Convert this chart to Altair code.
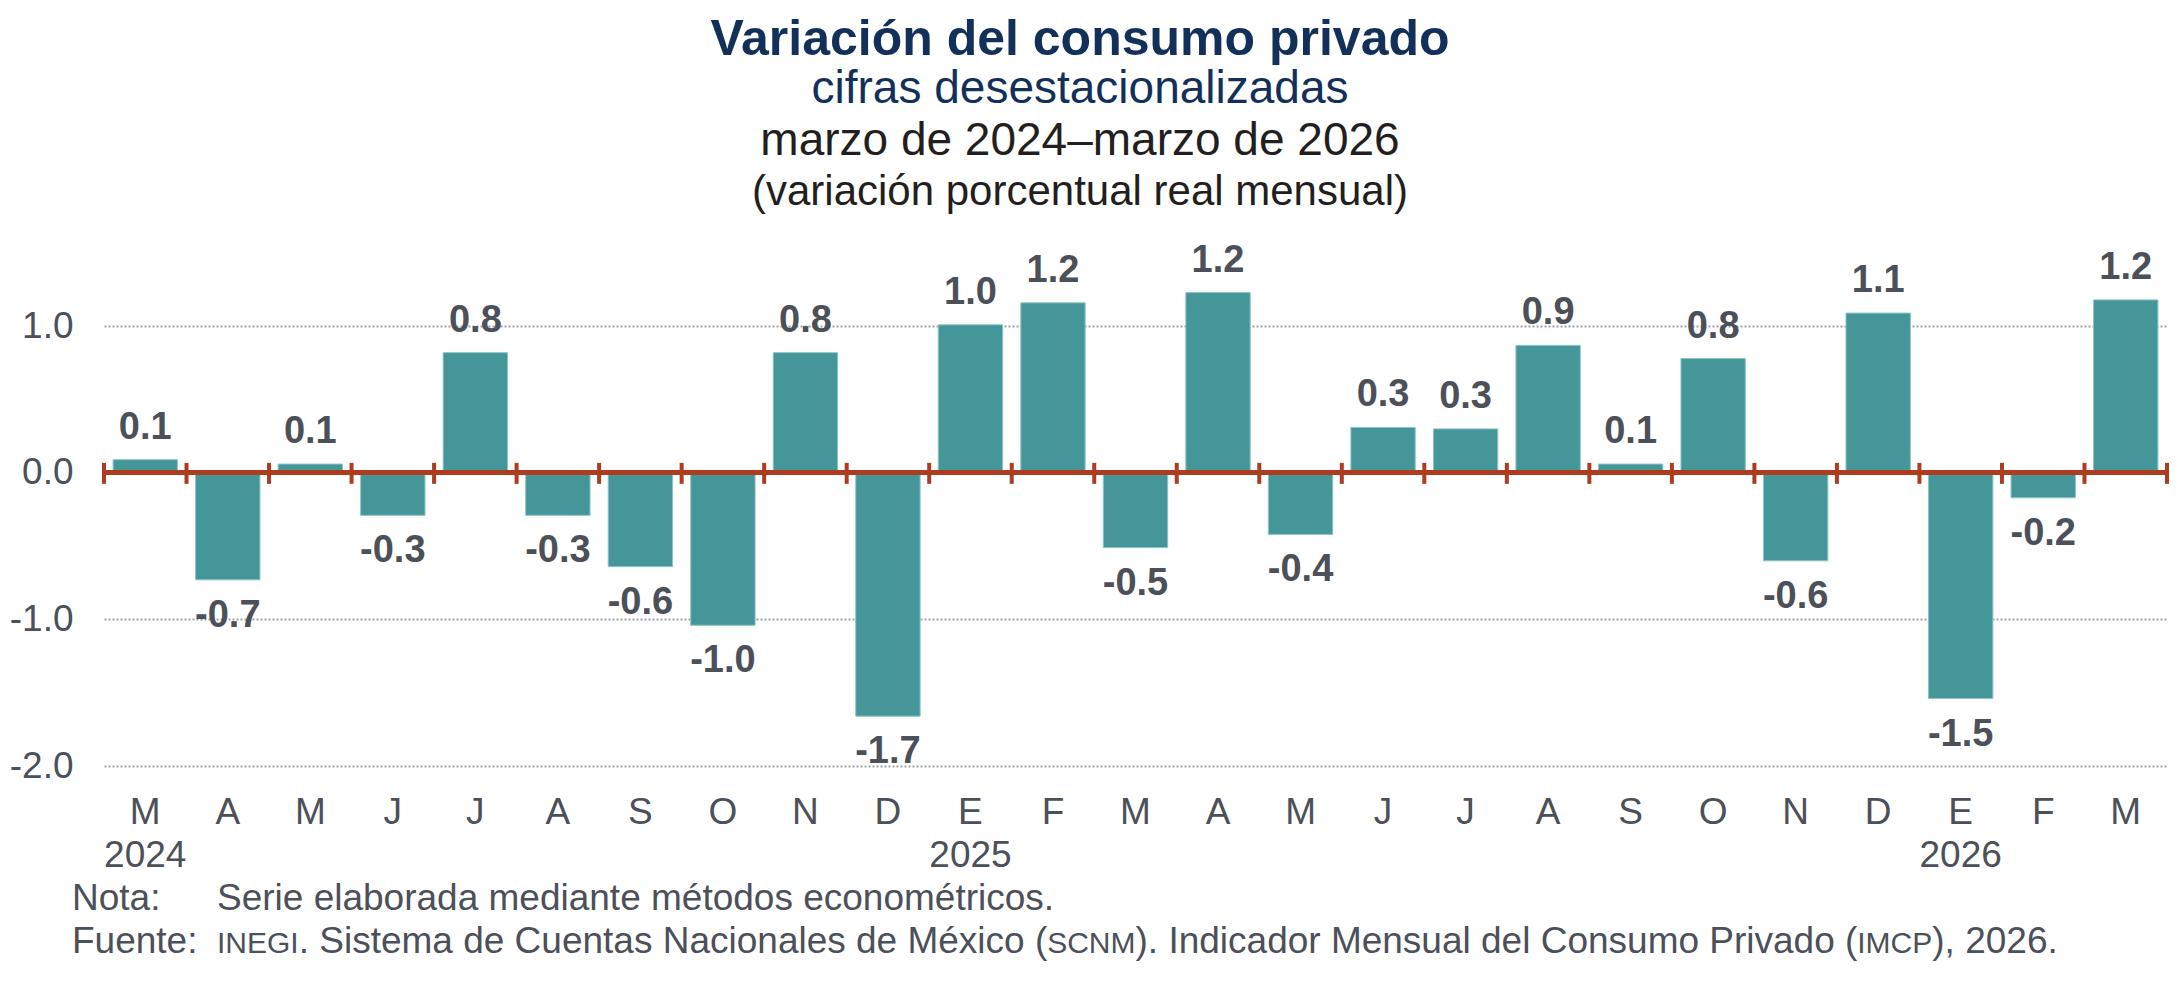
import json
import altair as alt
import pandas as pd

# ---------------- data ----------------
months = ["M", "A", "M", "J", "J", "A", "S", "O", "N", "D", "E", "F",
          "M", "A", "M", "J", "J", "A", "S", "O", "N", "D", "E", "F", "M"]
years = ["2024", "", "", "", "", "", "", "", "", "", "2025", "", "",
         "", "", "", "", "", "", "", "", "", "2026", "", ""]
values = [0.09, -0.73, 0.06, -0.29, 0.82, -0.29, -0.64, -1.04, 0.82, -1.66,
          1.01, 1.16, -0.51, 1.23, -0.42, 0.31, 0.30, 0.87, 0.06, 0.78,
          -0.60, 1.09, -1.54, -0.17, 1.18]
labels = ["0.1", "-0.7", "0.1", "-0.3", "0.8", "-0.3", "-0.6", "-1.0", "0.8", "-1.7",
          "1.0", "1.2", "-0.5", "1.2", "-0.4", "0.3", "0.3", "0.9", "0.1", "0.8",
          "-0.6", "1.1", "-1.5", "-0.2", "1.2"]
y_ticks = [-2, -1, 0, 1]

title_lines = ["Variación del consumo privado", "cifras desestacionalizadas",
               "marzo de 2024\u2013marzo de 2026", "(variación porcentual real mensual)"]
nota_label = "Nota:"
nota_text = "Serie elaborada mediante métodos econométricos."
fuente_label = "Fuente:"
fuente_parts = [("INEGI", True), (". Sistema de Cuentas Nacionales de México (", False),
                ("SCNM", True), ("). Indicador Mensual del Consumo Privado (", False),
                ("IMCP", True), ("), 2026.", False)]

# ---------------- styles ----------------
FONT = "Liberation Sans"
NAVY = "#13305A"
DARK = "#231F20"
GRAY = "#4B5059"
TEAL = "#459699"
RUST = "#AE3C1F"
GRID = "#9BA1A9"

W, H = 2063, 513
keys = [f"{i:02d}" for i in range(len(months))]
df = pd.DataFrame({"k": keys, "v": values, "lab": labels})

label_arr = [[m, y] if y else m for m, y in zip(months, years)]
label_expr = json.dumps(label_arr, ensure_ascii=False) + "[toNumber(datum.value)]"

xscale = alt.Scale(paddingInner=0, paddingOuter=0)
yscale = alt.Scale(domain=[-2, 1.5], nice=False, zero=False)

base = alt.Chart(df)

bars = base.mark_bar(color=TEAL, stroke="#8CC4C6", strokeWidth=1,
                     width=alt.RelativeBandSize(0.78)).encode(
    x=alt.X("k:N", sort=keys, scale=xscale, title=None,
            axis=alt.Axis(labelExpr=label_expr, labelAngle=0, labelFont=FONT,
                          labelFontSize=37, labelColor=GRAY, labelPadding=28,
                          labelLineHeight=43, ticks=False, domain=False, grid=False)),
    y=alt.Y("v:Q", scale=yscale, title=None,
            axis=alt.Axis(values=y_ticks, labelExpr="datum.value < 0 ? '-' + format(-datum.value, '.1f') : format(datum.value, '.1f')",
                          labelFont=FONT, labelFontSize=37, labelColor=GRAY,
                          labelPadding=31, ticks=False, domain=False, grid=True,
                          gridColor=GRID, gridDash=[2, 2], gridWidth=2)),
)

pos_text = base.transform_filter("datum.v >= 0").mark_text(
    font=FONT, fontSize=38, fontWeight="bold", color=GRAY, baseline="alphabetic", dy=-21
).encode(x=alt.X("k:N", sort=keys, scale=xscale), y=alt.Y("v:Q", scale=yscale), text="lab:N")

neg_text = base.transform_filter("datum.v < 0").mark_text(
    font=FONT, fontSize=38, fontWeight="bold", color=GRAY, baseline="alphabetic", dy=47
).encode(x=alt.X("k:N", sort=keys, scale=xscale), y=alt.Y("v:Q", scale=yscale), text="lab:N")

zero_line = base.mark_rule(color=RUST, strokeWidth=4.5).encode(y=alt.datum(0))

ticks = base.mark_rule(color=RUST, strokeWidth=4, yOffset=-10, y2Offset=11).encode(
    x=alt.X("k:N", sort=keys, scale=xscale, bandPosition=0),
    y=alt.datum(0), y2=alt.datum(0))
last_tick = base.transform_filter(f"datum.k == '{keys[-1]}'").mark_rule(
    color=RUST, strokeWidth=4, yOffset=-10, y2Offset=11).encode(
    x=alt.X("k:N", sort=keys, scale=xscale, bandPosition=1),
    y=alt.datum(0), y2=alt.datum(0))

# ---------------- titles ----------------
CX = 976
title_specs = [
    (title_lines[0], 50, "bold", NAVY, -198),
    (title_lines[1], 46, "normal", NAVY, -150),
    (title_lines[2], 46, "normal", DARK, -98),
    (title_lines[3], 42, "normal", DARK, -48),
]
title_layers = []
for txt, size, weight, col, yy in title_specs:
    title_layers.append(
        alt.Chart(pd.DataFrame({"t": [txt]})).mark_text(
            font=FONT, fontSize=size, fontWeight=weight, color=col,
            align="center", baseline="alphabetic"
        ).encode(text="t:N", x=alt.value(CX), y=alt.value(yy))
    )

# ---------------- footnotes ----------------
AW = {' ': 278, '(': 333, ')': 333, '.': 278, ',': 278, ':': 278,
      'A': 667, 'C': 722, 'E': 667, 'F': 611, 'G': 778, 'I': 278, 'M': 833,
      'N': 722, 'P': 667, 'S': 667, 'a': 556, 'b': 556, 'c': 500, 'd': 556,
      'e': 556, 'é': 556, 'i': 222, 'l': 222, 'm': 833, 'n': 556, 'o': 556,
      'r': 333, 's': 500, 't': 278, 'u': 556, 'v': 500, 'x': 500}
for dch in "0123456789":
    AW[dch] = 556


def tw(s, size):
    return sum(AW.get(ch, 556) for ch in s) / 1000 * size


FN, SC = 37, 30
foot_layers = []


def foot(txt, x, y, size):
    return alt.Chart(pd.DataFrame({"t": [txt]})).mark_text(
        font=FONT, fontSize=size, color=GRAY, align="left", baseline="alphabetic"
    ).encode(text="t:N", x=alt.value(x), y=alt.value(y))


foot_layers.append(foot(nota_label, -32, 657, FN))
foot_layers.append(foot(nota_text, 113, 657, FN))
foot_layers.append(foot(fuente_label, -32, 700, FN))
xx = 113
for txt, small in fuente_parts:
    size = SC if small else FN
    foot_layers.append(foot(txt, xx, 700, size))
    xx += tw(txt, size)

chart = alt.layer(
    bars, zero_line, ticks, last_tick, pos_text, neg_text, *title_layers, *foot_layers
).properties(
    width=W, height=H,
    padding={"left": 96, "top": 245, "right": 2, "bottom": 205},
    autosize=alt.AutoSizeParams(type="none"),
).configure(background="white").configure_view(strokeWidth=0, stroke="transparent")

chart.save("out.html", embed_options={"renderer": "svg", "actions": False})
